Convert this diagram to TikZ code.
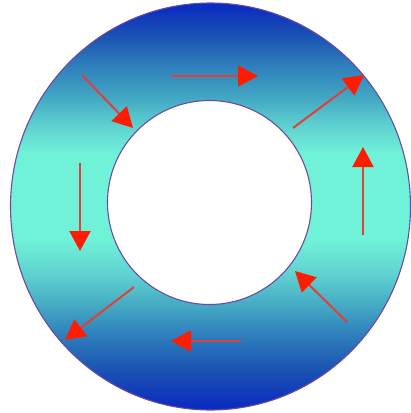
\documentclass[tikz,border=0pt]{standalone}
\usetikzlibrary{arrows.meta}
\definecolor{ringdark}{HTML}{0C2EC0}
\definecolor{ringdeep}{HTML}{1A52B2}
\definecolor{ringblue}{HTML}{2E7EBC}
\definecolor{ringmid}{HTML}{40A4C2}
\definecolor{ringlight}{HTML}{5ED0D0}
\definecolor{ringcyan}{HTML}{70F2D8}
\definecolor{edgepurple}{HTML}{6A4AA6}
\definecolor{arrowline}{HTML}{E0403A}
\definecolor{arrowhead}{HTML}{FF1C00}
\pgfdeclareverticalshading{ringshade}{100bp}{
  color(0bp)=(ringdark); color(25.6bp)=(ringdark); color(29.9bp)=(ringdeep);
  color(34.2bp)=(ringblue); color(37.3bp)=(ringmid); color(41.5bp)=(ringlight);
  color(46bp)=(ringcyan);
  color(56.5bp)=(ringcyan); color(60bp)=(ringlight); color(63.7bp)=(ringmid);
  color(67.4bp)=(ringblue); color(71bp)=(ringdeep); color(74.4bp)=(ringdark);
  color(100bp)=(ringdark)}
\tikzset{
  flow/.style={draw=arrowline, line width=2pt,
    -{Triangle[length=20pt,width=21pt,color=arrowhead]}},
  rim/.style={draw=edgepurple, line width=1.1pt}
}
\begin{document}
\begin{tikzpicture}[x=1pt,y=-1pt]
\useasboundingbox (0,0) rectangle (411,413);
\shade[shading=ringshade] (210.5,206.5) ellipse [x radius=200, y radius=203.5];
\path[rim] (210.5,206.5) ellipse [x radius=200, y radius=203.5];
\path[fill=white, rim] (209.5,202.5) circle [radius=102];
% arrow endpoints
\coordinate (a1s) at (82,75);   \coordinate (a1e) at (133,128);
\coordinate (a2s) at (171,76);  \coordinate (a2e) at (258,76);
\coordinate (a3s) at (293,128); \coordinate (a3e) at (364,75);
\coordinate (a4s) at (363,235); \coordinate (a4e) at (363,147);
\coordinate (a5s) at (347,322); \coordinate (a5e) at (295,271);
\coordinate (a6s) at (241,341); \coordinate (a6e) at (171,341);
\coordinate (a7s) at (134,287); \coordinate (a7e) at (65,340);
\coordinate (a8s) at (80,163);  \coordinate (a8e) at (80,251);
\draw[flow] (a1s) -- (a1e);
\draw[flow] (a2s) -- (a2e);
\draw[flow] (a3s) -- (a3e);
\draw[flow] (a4s) -- (a4e);
\draw[flow] (a5s) -- (a5e);
\draw[flow] (a6s) -- (a6e);
\draw[flow] (a7s) -- (a7e);
\draw[flow] (a8s) -- (a8e);
\end{tikzpicture}
\end{document}
